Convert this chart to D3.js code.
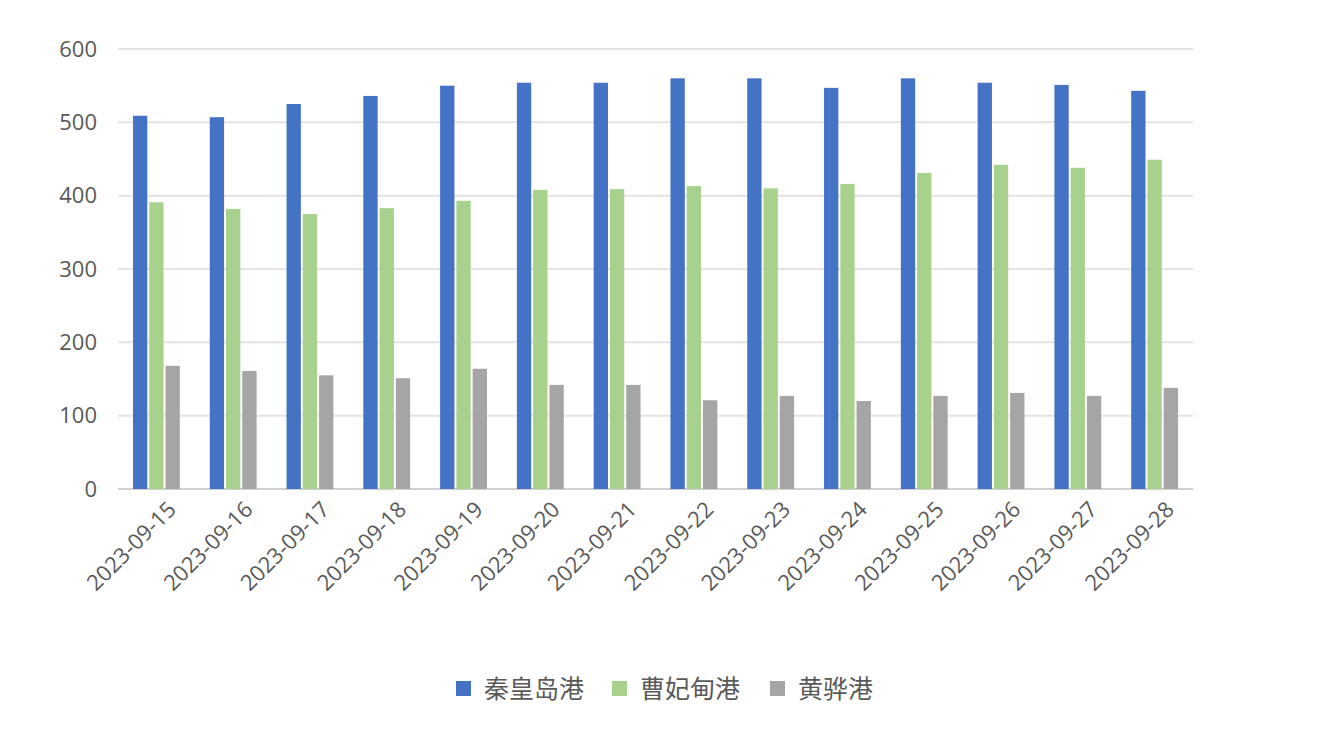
<!DOCTYPE html>
<html><head><meta charset="utf-8">
<script src="https://cdn.jsdelivr.net/npm/d3@7"></script>
<style>body{margin:0;background:#fff}</style></head>
<body><svg id="c" width="1324" height="742"></svg>
<script>
const categories=["2023-09-15","2023-09-16","2023-09-17","2023-09-18","2023-09-19","2023-09-20","2023-09-21","2023-09-22","2023-09-23","2023-09-24","2023-09-25","2023-09-26","2023-09-27","2023-09-28"];
const seriesNames=["秦皇岛港","曹妃甸港","黄骅港"];
const qinhuangdao=[509,507,525,536,550,554,554,560,560,547,560,554,551,543];
const caofeidian=[391,382,375,383,393,408,409,413,410,416,431,442,438,449];
const huanghua=[168,161,155,151,164,142,142,121,127,120,127,131,127,138];
const yTicks=[0,100,200,300,400,500,600];
const colors=["#4472C4","#A9D18E","#A5A5A5"];
const series=[qinhuangdao,caofeidian,huanghua];
const svg=d3.select("#c");
const font="'Open Sans','Noto Sans',sans-serif";
const cjk="'Noto Sans CJK SC',sans-serif";
const x=d3.scaleBand().domain(categories).range([118,1193]).paddingInner(0.39).paddingOuter(0.195);
const xs=d3.scaleBand().domain([0,1,2]).range([0,x.bandwidth()]).paddingInner(0.12);
const y=d3.scaleLinear().domain([0,600]).range([489,49]);
svg.append("g").selectAll("line").data(yTicks).join("line")
 .attr("x1",118).attr("x2",1193).attr("y1",d=>y(d)).attr("y2",d=>y(d))
 .attr("stroke",d=>d===0?"#D0D0D0":"#E3E3E3").attr("stroke-width",2);
svg.append("g").selectAll("text").data(yTicks).join("text")
 .attr("x",97).attr("y",d=>y(d)).attr("dy","0.35em").attr("text-anchor","end")
 .attr("font-family",font).attr("font-size",22).attr("fill","#595959").text(d=>d);
series.forEach((s,i)=>{
 svg.append("g").selectAll("rect").data(s).join("rect")
  .attr("x",(d,j)=>x(categories[j])+xs(i)).attr("width",xs.bandwidth())
  .attr("y",d=>y(d)).attr("height",d=>y(0)-y(d)).attr("fill",colors[i]);
});
svg.append("g").selectAll("text").data(categories).join("text")
 .attr("transform",d=>`translate(${x(d)+x.bandwidth()/2+10},${500}) rotate(-45)`)
 .attr("text-anchor","end").attr("dy","0.7em")
 .attr("font-family",font).attr("font-size",22).attr("fill","#595959").text(d=>d);
const lg=svg.append("g");
const lx=[456,612,770];
seriesNames.forEach((n,i)=>{
 lg.append("rect").attr("x",lx[i]).attr("y",681).attr("width",15).attr("height",15).attr("fill",colors[i]);
 lg.append("text").attr("x",lx[i]+28).attr("y",689).attr("dy","0.35em")
  .attr("font-family",cjk).attr("font-size",25).attr("fill","#595959").text(n);
});
</script></body></html>
